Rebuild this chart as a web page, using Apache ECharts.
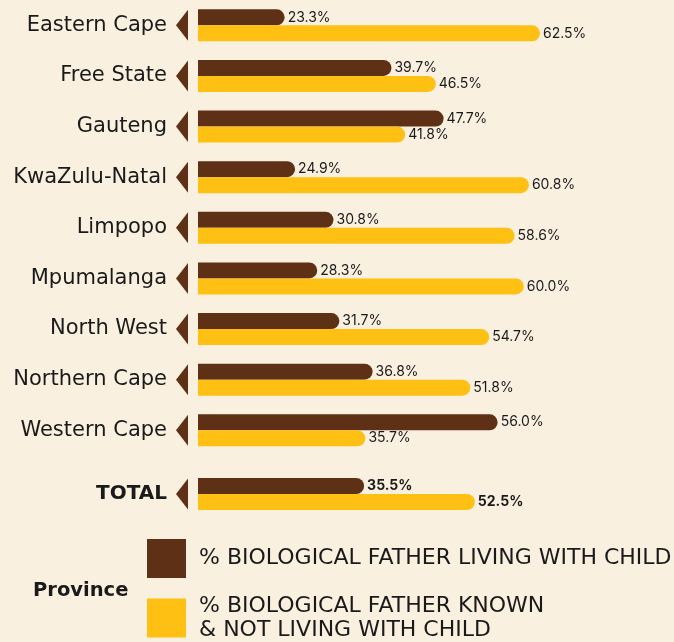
<!DOCTYPE html>
<html>
<head>
<meta charset="utf-8">
<script src="https://cdn.jsdelivr.net/npm/echarts@6/dist/echarts.min.js"></script>
<style>
  html, body { margin: 0; padding: 0; background: #faf0e0; }
  #chart { width: 674px; height: 642px; }
</style>
</head>
<body>
<div id="chart"></div>
<script>
const provinces = ['Eastern Cape', 'Free State', 'Gauteng', 'KwaZulu-Natal', 'Limpopo', 'Mpumalanga', 'North West', 'Northern Cape', 'Western Cape'];
const livingWith = [23.3, 39.7, 47.7, 24.9, 30.8, 28.3, 31.7, 36.8, 56.0];
const knownNotLiving = [62.5, 46.5, 41.8, 60.8, 58.6, 60.0, 54.7, 51.8, 35.7];
const totalCategory = ['TOTAL'];
const totalLiving = [35.5];
const totalKnownNotLiving = [52.5];
const seriesNames = ['% BIOLOGICAL FATHER LIVING WITH CHILD', '% BIOLOGICAL FATHER KNOWN\n& NOT LIVING WITH CHILD'];

const BROWN = '#5e3116';
const YELLOW = '#fdc013';
const TEXT = '#1a1a1a';
const FONT = 'DejaVu Sans';
const VFONT = 'Inter';
const AXIS_MIN = 10;

const chart = echarts.init(document.getElementById('chart'), null, { renderer: 'canvas' });

function valLabel(bold) {
  return {
    show: true, position: 'right', distance: 3,
    fontFamily: VFONT, fontSize: 14, color: TEXT, fontWeight: bold ? 'bold' : 'normal',
    formatter: p => p.value.toFixed(1) + '%'
  };
}
function barSeries(name, data, color, gi, bold) {
  return {
    type: 'bar', name: name, data: data,
    xAxisIndex: gi, yAxisIndex: gi,
    barWidth: 16, barGap: '0%',
    itemStyle: { color: color, borderRadius: [0, 8, 8, 0] },
    label: valLabel(bold),
    clip: true, silent: true
  };
}
function arrowSeries(cats, gi) {
  return {
    type: 'scatter', xAxisIndex: gi, yAxisIndex: gi,
    data: cats.map((c, i) => [AXIS_MIN, i]),
    symbol: 'path://M12,0 L12,31 L0,15.5 Z',
    symbolSize: [12, 31], symbolOffset: [-16, 0],
    itemStyle: { color: BROWN, opacity: 1 },
    clip: false, silent: true, z: 5
  };
}
const yLabel = (bold) => ({
  fontFamily: FONT, fontSize: bold ? 20 : 21, color: TEXT, margin: 31,
  fontWeight: bold ? 'bold' : 'normal'
});
const legendText = { fontFamily: FONT, fontSize: 22, color: TEXT, lineHeight: 24, padding: [0, 0, 0, 8] };

const option = {
  backgroundColor: '#faf0e0',
  animation: false,
  title: {
    text: 'Province', left: 33, top: 580, padding: 0,
    textStyle: { fontFamily: FONT, fontSize: 19.5, fontWeight: 'bold', color: TEXT, lineHeight: 22 }
  },
  legend: [
    {
      data: [seriesNames[0]], orient: 'vertical', left: 147, top: 539, padding: 0,
      icon: 'rect', itemWidth: 39, itemHeight: 39,
      textStyle: legendText, selectedMode: false
    },
    {
      data: [seriesNames[1]], orient: 'vertical', left: 147, top: 594, padding: 0,
      icon: 'rect', itemWidth: 39, itemHeight: 39,
      textStyle: legendText, selectedMode: false
    }
  ],
  grid: [
    { left: 198, width: 456, top: 0, height: 455.6 },
    { left: 198, width: 456, top: 469, height: 50 }
  ],
  xAxis: [
    { gridIndex: 0, type: 'value', min: AXIS_MIN, max: 80, show: false },
    { gridIndex: 1, type: 'value', min: AXIS_MIN, max: 80, show: false }
  ],
  yAxis: [
    { gridIndex: 0, type: 'category', data: provinces, inverse: true,
      axisLine: { show: false }, axisTick: { show: false }, axisLabel: yLabel(false) },
    { gridIndex: 1, type: 'category', data: totalCategory, inverse: true,
      axisLine: { show: false }, axisTick: { show: false }, axisLabel: yLabel(true) }
  ],
  series: [
    barSeries(seriesNames[0], livingWith, BROWN, 0, false),
    barSeries(seriesNames[1], knownNotLiving, YELLOW, 0, false),
    arrowSeries(provinces, 0),
    barSeries(seriesNames[0], totalLiving, BROWN, 1, true),
    barSeries(seriesNames[1], totalKnownNotLiving, YELLOW, 1, true),
    arrowSeries(totalCategory, 1)
  ]
};
chart.setOption(option);
</script>
</body>
</html>
